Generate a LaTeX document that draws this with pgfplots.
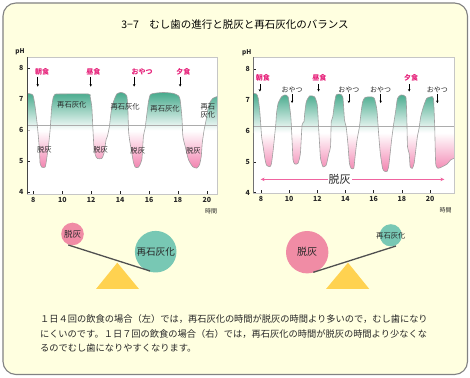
\documentclass[border=0pt]{standalone}
\usepackage{fontspec}
\setmainfont{Noto Sans CJK JP}
\usepackage{pgfplots}
\usepackage{pgfplotstable}
\pgfplotsset{compat=1.18}
\usetikzlibrary{arrows.meta}
\definecolor{bgyellow}{RGB}{255,255,224}
\definecolor{framegray}{RGB}{130,130,130}
\definecolor{tealfill}{RGB}{70,170,140}
\definecolor{pinkfill}{RGB}{242,130,175}
\definecolor{magentalab}{RGB}{230,30,120}
\definecolor{circpink}{RGB}{240,140,165}
\definecolor{circteal}{RGB}{120,200,180}
\definecolor{triyellow}{RGB}{255,210,80}
\definecolor{beamgray}{RGB}{80,80,80}
\definecolor{arrowpink}{RGB}{240,100,160}
\definecolor{txt}{RGB}{40,40,40}
\pgfplotstableread{
h ph
7.54 7.19
7.96 7.14
8.12 6.76
8.28 6.12
8.42 5.37
8.46 4.94
8.58 4.80
8.81 4.80
8.88 4.94
9.04 5.47
9.16 6.01
9.27 6.76
9.39 7.09
9.50 7.16
9.62 7.17
11.81 7.17
11.92 7.09
12.04 6.76
12.11 6.12
12.20 5.37
12.34 5.13
12.43 5.08
12.73 5.08
12.89 5.26
13.03 5.69
13.12 5.80
13.26 6.12
13.38 6.60
13.54 6.92
13.77 7.17
14.05 7.22
14.28 7.19
14.46 7.11
14.53 6.76
14.58 6.01
14.65 5.69
14.81 5.26
14.92 4.96
15.04 4.80
15.27 4.80
15.50 5.04
15.61 5.80
15.73 6.06
15.80 6.33
15.96 6.92
16.08 7.14
16.31 7.19
17.00 7.22
17.69 7.19
18.04 7.11
18.15 6.98
18.27 6.44
18.34 5.80
18.50 5.47
18.73 5.04
19.03 4.81
19.31 4.77
19.49 4.88
19.61 5.15
19.68 5.58
19.81 6.01
19.95 6.33
20.04 6.60
20.18 6.87
20.41 7.03
20.73 7.09
}\leftdata
\pgfplotstableread{
h ph
7.46 7.21
7.69 7.19
7.81 7.05
7.93 6.57
8.05 5.81
8.16 5.49
8.28 5.11
8.40 4.89
8.64 4.84
8.75 4.95
8.87 5.38
8.99 5.92
9.06 6.24
9.11 6.57
9.22 6.89
9.46 7.10
9.69 7.16
9.93 7.10
10.12 6.46
10.21 5.70
10.28 5.06
10.40 4.93
10.63 4.95
10.80 5.27
10.92 6.19
11.06 6.30
11.11 6.57
11.22 6.94
11.46 7.13
11.81 7.10
12.00 6.83
12.09 6.13
12.16 5.59
12.23 5.11
12.40 4.84
12.63 4.89
12.82 5.27
12.94 5.49
12.99 6.30
13.10 6.46
13.22 6.89
13.34 7.16
13.58 7.19
13.81 7.10
13.93 6.35
14.05 6.13
14.17 5.59
14.28 4.95
14.40 4.79
14.59 4.79
14.68 5.16
14.82 5.70
14.99 6.13
15.10 6.57
15.22 6.94
15.39 7.08
15.81 7.10
16.05 7.05
16.23 6.67
16.35 5.92
16.47 5.27
16.63 4.79
16.75 4.70
16.94 4.68
17.06 4.84
17.17 5.27
17.27 5.70
17.41 6.19
17.57 6.67
17.69 7.05
17.93 7.16
18.28 7.10
18.35 6.46
18.40 5.49
18.52 5.27
18.59 4.84
18.75 4.79
18.87 4.95
18.99 5.38
19.10 5.81
19.22 6.08
19.34 6.46
19.53 6.78
19.76 7.05
20.05 7.10
20.24 7.05
20.33 6.13
20.40 4.95
20.56 4.79
20.87 4.84
21.22 4.93
21.46 5.06
21.70 5.11
}\rightdata
\pgfplotsset{phaxis/.style={anchor=south west, scale only axis,
  axis background/.style={fill=white},
  axis line style={draw=gray!45},
  tick pos=left, tick align=inside, major tick length=3pt,
  tick style={gray!30!black, line width=0.5pt},
  xtick={8,10,...,20}, ytick={4,5,6,7,8},
  /pgf/number format/assume math mode=true,
  tick label style={font=\fontsize{7}{8}\selectfont\bfseries, text=txt},
  every axis plot/.append style={line join=round}},
  curvefill/.style={draw=none, top color=tealfill, bottom color=pinkfill, middle color=white, smooth, tension=0.35},
  curveline/.style={draw=gray!75, line width=0.6pt, smooth, tension=0.35}}
\tikzset{
  meal/.style={font=\fontsize{7}{8}\selectfont\bfseries, text=magentalab, inner sep=0pt},
  lab/.style={font=\fontsize{7.3}{8}\selectfont, text=txt, inner sep=0pt, align=center},
  arr/.style={-{Stealth[length=2.5pt,width=2.5pt]}, line width=0.6pt, black}}
\begin{document}
\begin{tikzpicture}[x=1pt,y=1pt]
\fill[white] (0,0) rectangle (470,377);
\draw[rounded corners=13pt, draw=framegray, line width=1.1pt, fill=bgyellow] (3,2.5) rectangle (467.5,374);
\node[font=\fontsize{10.5}{11}\selectfont, text=black] at (235,352) {3−7　むし歯の進行と脱灰と再石灰化のバランス};

% ---------------- left chart ----------------
\begin{axis}[phaxis, at={(27pt,183pt)}, width=190pt, height=137pt,
  xmin=7.56, xmax=20.7, ymin=3.93, ymax=8.37]
\addplot[curvefill] table[x=h, y=ph] {\leftdata} -- (axis cs:20.73,5.98) -- (axis cs:7.54,5.98) -- cycle;
\addplot[gray!65, line width=0.6pt] coordinates {(7.56,6.15) (20.7,6.15)};
\addplot[curveline] table[x=h, y=ph] {\leftdata};
\draw[gray!55!black, line width=0.6pt] (rel axis cs:0,1) -- (rel axis cs:0,0) -- (rel axis cs:1,0);
\node[meal] at (axis cs:8.60,7.89) {朝食};
\node[meal] at (axis cs:12.15,7.89) {昼食};
\node[meal] at (axis cs:15.52,7.89) {おやつ};
\node[meal] at (axis cs:18.38,7.89) {夕食};
\draw[arr] (axis cs:8.30,7.73) -- (axis cs:8.30,7.41);
\draw[arr] (axis cs:11.97,7.73) -- (axis cs:11.97,7.41);
\draw[arr] (axis cs:14.97,7.73) -- (axis cs:14.97,7.41);
\draw[arr] (axis cs:18.15,7.73) -- (axis cs:18.15,7.41);
\node[lab] at (axis cs:10.66,6.82) {再石灰化};
\node[lab] at (axis cs:14.35,6.76) {再石灰化};
\node[lab] at (axis cs:17.11,6.68) {再石灰化};
\node[lab] at (axis cs:20.07,6.63) {再石\\灰化};
\node[lab] at (axis cs:8.76,5.37) {脱灰};
\node[lab] at (axis cs:12.66,5.37) {脱灰};
\node[lab] at (axis cs:15.22,5.33) {脱灰};
\node[lab] at (axis cs:19.07,5.34) {脱灰};
\end{axis}
\node[font=\fontsize{6.5}{7}\selectfont\bfseries, text=txt] at (20,325) {pH};
\node[font=\fontsize{6}{7}\selectfont, text=txt] at (211,166) {時間};

% ---------------- right chart ----------------
\begin{axis}[phaxis, at={(253.3pt,184pt)}, width=200.7pt, height=135.7pt,
  xmin=7.46, xmax=21.7, ymin=3.99, ymax=8.38]
\addplot[curvefill] table[x=h, y=ph] {\rightdata} -- (axis cs:21.70,5.93) -- (axis cs:7.46,5.93) -- cycle;
\addplot[gray!65, line width=0.6pt] coordinates {(7.46,6.15) (21.7,6.15)};
\addplot[curveline] table[x=h, y=ph] {\rightdata};
\draw[gray!55!black, line width=0.6pt] (rel axis cs:0,1) -- (rel axis cs:0,0) -- (rel axis cs:1,0);
\node[meal] at (axis cs:8.14,7.73) {朝食};
\node[meal] at (axis cs:12.14,7.73) {昼食};
\node[meal] at (axis cs:18.66,7.73) {夕食};
\node[lab, font=\fontsize{7}{8}\selectfont] at (axis cs:10.21,7.33) {おやつ};
\node[lab, font=\fontsize{7}{8}\selectfont] at (axis cs:14.24,7.33) {おやつ};
\node[lab, font=\fontsize{7}{8}\selectfont] at (axis cs:16.50,7.33) {おやつ};
\node[lab, font=\fontsize{7}{8}\selectfont] at (axis cs:20.52,7.33) {おやつ};
\draw[arr] (axis cs:7.93,7.51) -- (axis cs:7.93,7.27);
\draw[arr] (axis cs:12.09,7.51) -- (axis cs:12.09,7.27);
\draw[arr] (axis cs:18.52,7.51) -- (axis cs:18.52,7.27);
\draw[arr] (axis cs:10.21,7.19) -- (axis cs:10.21,6.90);
\draw[arr] (axis cs:14.24,7.19) -- (axis cs:14.24,6.90);
\draw[arr] (axis cs:16.50,7.19) -- (axis cs:16.50,6.90);
\draw[arr] (axis cs:20.52,7.19) -- (axis cs:20.52,6.90);
\draw[arrowpink, line width=0.9pt, {Stealth[length=4pt,width=3.5pt]}-{Stealth[length=4pt,width=3.5pt]}] (axis cs:7.98,4.43) -- (axis cs:21.02,4.43);
\node[fill=white, inner sep=1pt, font=\fontsize{11}{12}\selectfont, text=txt] at (axis cs:13.58,4.43) {脱灰};
\end{axis}
\node[font=\fontsize{6.5}{7}\selectfont\bfseries, text=txt] at (246.7,324) {pH};
\node[font=\fontsize{6}{7}\selectfont, text=txt] at (445.7,167) {時間};

% ---------------- balances ----------------
\fill[triyellow] (96,88) -- (139,88) -- (117.3,114.3) -- cycle;
\fill[circpink] (72.5,143) circle (11.3);
\fill[circteal] (155.7,125.3) circle (20.8);
\draw[beamgray, line width=1.3pt] (68.3,132) -- (150,106);
\node[font=\fontsize{8.5}{9}\selectfont, text=txt] at (72.5,143) {脱灰};
\node[font=\fontsize{9.6}{10}\selectfont, text=txt] at (155.7,125.3) {再石灰化};

\fill[triyellow] (326,88) -- (369.3,88) -- (348,114.3) -- cycle;
\fill[circpink] (307.2,124.8) circle (21.2);
\fill[circteal] (390.8,141.7) circle (11.1);
\draw[beamgray, line width=1.3pt] (313.3,104.7) -- (396,131);
\node[font=\fontsize{10}{11}\selectfont, text=txt] at (307.2,124.8) {脱灰};
\node[font=\fontsize{7.3}{8}\selectfont, text=txt] at (390.8,141.7) {再石灰化};

% ---------------- caption ----------------
\begin{scope}[every node/.style={anchor=west, inner sep=0pt, font=\fontsize{9.24}{11}\selectfont, text=txt}]
\node at (40,57.7) {１日４回の飲食の場合（左）では，再石灰化の時間が脱灰の時間より多いので，むし歯になり};
\node at (40,43) {にくいのです。１日７回の飲食の場合（右）では，再石灰化の時間が脱灰の時間より少なくな};
\node at (40,28.7) {るのでむし歯になりやすくなります。};
\end{scope}
\end{tikzpicture}
\end{document}
